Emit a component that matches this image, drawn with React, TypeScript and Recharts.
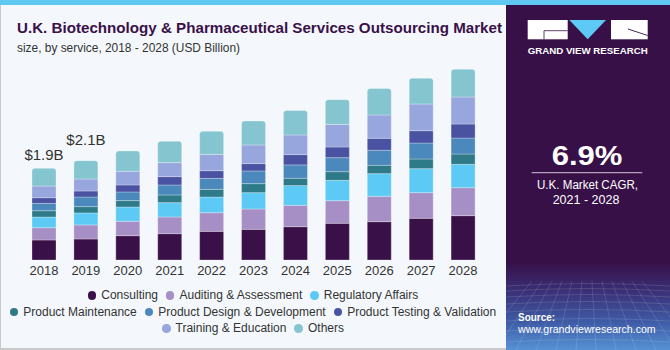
import React from 'react';
import { BarChart, Bar, XAxis, YAxis, LabelList } from 'recharts';

const years = ['2018', '2019', '2020', '2021', '2022', '2023', '2024', '2025', '2026', '2027', '2028'];
const consulting = [0.417, 0.438, 0.507, 0.549, 0.597, 0.639, 0.694, 0.764, 0.799, 0.868, 0.924];
const auditing = [0.256, 0.292, 0.299, 0.347, 0.389, 0.424, 0.446, 0.472, 0.528, 0.535, 0.583];
const regulatory = [0.222, 0.25, 0.299, 0.299, 0.326, 0.34, 0.41, 0.424, 0.472, 0.5, 0.486];
const maintenance = [0.132, 0.132, 0.132, 0.16, 0.16, 0.188, 0.153, 0.18, 0.174, 0.201, 0.215];
const design = [0.153, 0.201, 0.181, 0.208, 0.229, 0.264, 0.278, 0.292, 0.313, 0.333, 0.333];
const testing = [0.118, 0.125, 0.146, 0.174, 0.16, 0.153, 0.215, 0.222, 0.25, 0.257, 0.292];
const training = [0.243, 0.25, 0.285, 0.292, 0.34, 0.389, 0.41, 0.472, 0.486, 0.556, 0.563];
const others = [0.368, 0.382, 0.424, 0.444, 0.479, 0.5, 0.507, 0.514, 0.549, 0.535, 0.576];
const barLabels = ['$1.9B', '$2.1B'];

const seriesKeys = ['consulting', 'auditing', 'regulatory', 'maintenance', 'design', 'testing', 'training', 'others'];
const seriesNames = [
  'Consulting',
  'Auditing & Assessment',
  'Regulatory Affairs',
  'Product Maintenance',
  'Product Design & Development',
  'Product Testing & Validation',
  'Training & Education',
  'Others',
];
const seriesColors = ['#3a1049', '#a68fc4', '#5ccaf5', '#2f7a88', '#4b88bb', '#4953a2', '#97a6dd', '#85c5cf'];
const seriesValues = [consulting, auditing, regulatory, maintenance, design, testing, training, others];

const data = years.map((y, i) => {
  const row: any = { year: y, label: barLabels[i] || '' };
  seriesKeys.forEach((k, s) => {
    row[k] = seriesValues[s][i];
  });
  return row;
});

const FONT = '"Liberation Sans", Arial, sans-serif';
const labelGaps = [8, 16];

const renderBarLabel = (props: any) => {
  const { x, y, width, value, index } = props;
  if (!value) return null;
  const gap = labelGaps[index] ?? 8;
  return (
    <text x={x + width / 2} y={y - gap} textAnchor="middle" fontSize={15} fill="#333" fontFamily={FONT}>
      {value}
    </text>
  );
};

const legendRows = [[0, 1, 2], [3, 4, 5], [6, 7]];

const gridH = [284, 289, 295, 302, 310, 319, 329, 340];
const gridV = [-30, -10, 10, 30, 50, 70, 90, 110, 130, 150, 170, 190];

export default function App() {
  return (
    <div style={{ position: 'absolute', left: 0, top: 0, width: 670, height: 350, overflow: 'hidden', background: '#f4f8fc', fontFamily: FONT }}>
      {/* borders */}
      <div style={{ position: 'absolute', left: 0, top: 0, width: 1, height: 350, background: '#c9c9c9' }} />
      <div style={{ position: 'absolute', left: 0, top: 348, width: 506, height: 2, background: '#c9c9c9' }} />

      {/* Title */}
      <svg width={506} height={60} style={{ position: 'absolute', left: 0, top: 0 }}>
        <text x={17} y={33} fontSize={14} fontWeight="bold" fill="#3a1049" fontFamily={FONT} textLength={485} lengthAdjust="spacingAndGlyphs">
          U.K. Biotechnology &amp; Pharmaceutical Services Outsourcing Market
        </text>
        <text x={17} y={51.5} fontSize={12.5} fill="#333" fontFamily={FONT} textLength={223} lengthAdjust="spacingAndGlyphs">
          size, by service, 2018 - 2028 (USD Billion)
        </text>
      </svg>

      <div style={{ position: 'absolute', left: 0, top: 0 }}>
        <BarChart width={506} height={350} data={data} margin={{ top: 68, right: 22, left: 23, bottom: 70 }}>
          <XAxis
            dataKey="year"
            axisLine={false}
            tickLine={false}
            interval={0}
            height={20}
            tickSize={4}
            tick={{ fontSize: 13, fill: '#333', fontFamily: FONT }}
          />
          <YAxis hide domain={[0, 4]} />
          {seriesKeys.map((k, s) => (
            <Bar
              key={k}
              dataKey={k}
              name={seriesNames[s]}
              stackId="a"
              fill={seriesColors[s]}
              barSize={24}
              stroke="rgba(255,255,255,0.35)"
              strokeWidth={0.8}
              radius={s === seriesKeys.length - 1 ? [3, 3, 0, 0] : 0}
              isAnimationActive={false}
            >
              {s === seriesKeys.length - 1 ? <LabelList dataKey="label" content={renderBarLabel} /> : null}
            </Bar>
          ))}
        </BarChart>
      </div>

      {/* Legend */}
      <div style={{ position: 'absolute', left: 0, top: 287, width: 506, fontSize: 12, color: '#333', fontFamily: FONT }}>
        {legendRows.map((row, r) => (
          <div key={r} style={{ display: 'flex', justifyContent: 'center', height: 16.5, alignItems: 'center', gap: 8 }}>
            {row.map((s) => (
              <div key={s} style={{ display: 'flex', alignItems: 'center', whiteSpace: 'nowrap' }}>
                <span style={{ display: 'inline-block', width: 8.5, height: 8.5, borderRadius: '50%', background: seriesColors[s], marginRight: 5 }} />
                <span>{seriesNames[s]}</span>
              </div>
            ))}
          </div>
        ))}
      </div>

      {/* Right panel */}
      <svg width={164} height={350} style={{ position: 'absolute', left: 506, top: 0 }}>
        <defs>
          <linearGradient id="pg" x1="0" y1="0" x2="0" y2="1">
            <stop offset="0" stopColor="#381048" />
            <stop offset="0.75" stopColor="#381048" />
            <stop offset="0.83" stopColor="#3a2f75" />
            <stop offset="0.92" stopColor="#3f5ba6" />
            <stop offset="1" stopColor="#5592d4" />
          </linearGradient>
        </defs>
        <rect x={0} y={0} width={164} height={350} fill="url(#pg)" />
        {/* faint perspective grid */}
        <g stroke="#ffffff" strokeOpacity={0.16} strokeWidth={0.8} fill="none">
          {gridH.map((gy, i) => (
            <path key={'h' + i} d={`M0,${gy + 2} Q82,${gy - 3} 164,${gy + 2}`} />
          ))}
          {gridV.map((gx, i) => (
            <line key={'v' + i} x1={82 + (gx - 82) * 0.5} y1={281} x2={gx} y2={350} />
          ))}
        </g>
        {/* logo */}
        <rect x={21.7} y={20} width={40} height={19.3} fill="#ffffff" />
        <polyline points="61.7,30.7 38,30.7 38,39.3" stroke="#381048" strokeWidth={0.8} fill="none" />
        <polygon points="63.3,20 100,20 81.7,39.3" fill="#5ccaf5" />
        <rect x={105} y={20} width={36.7} height={19.3} fill="#ffffff" />
        <line x1={122} y1={29} x2={141.7} y2={35.5} stroke="#381048" strokeWidth={0.9} />
        <text x={81.7} y={53.5} textAnchor="middle" fontSize={8.5} fontWeight="bold" fill="#ffffff" fontFamily={FONT} textLength={120} lengthAdjust="spacingAndGlyphs">
          GRAND VIEW RESEARCH
        </text>

        <text x={81} y={165} textAnchor="middle" fontSize={27} fontWeight="bold" fill="#ffffff" fontFamily={FONT} textLength={70.7} lengthAdjust="spacingAndGlyphs">
          6.9%
        </text>
        <line x1={25.7} y1={172.7} x2={136.3} y2={172.7} stroke="#cfc6d8" strokeWidth={1} />
        <text x={81.5} y={188.5} textAnchor="middle" fontSize={12.5} fill="#ffffff" fontFamily={FONT} textLength={101} lengthAdjust="spacingAndGlyphs">
          U.K. Market CAGR,
        </text>
        <text x={80} y={204} textAnchor="middle" fontSize={12.5} fill="#ffffff" fontFamily={FONT} textLength={66.7} lengthAdjust="spacingAndGlyphs">
          2021 - 2028
        </text>

        <text x={12} y={320.5} fontSize={11} fontWeight="bold" fill="#ffffff" fontFamily={FONT} textLength={37} lengthAdjust="spacingAndGlyphs">
          Source:
        </text>
        <text x={12} y={332.5} fontSize={11} fill="#ffffff" fontFamily={FONT} textLength={137.7} lengthAdjust="spacingAndGlyphs">
          www.grandviewresearch.com
        </text>
      </svg>

      {/* top band */}
      <div style={{ position: 'absolute', left: 0, top: 0, width: 670, height: 5, background: '#5ec8f0' }} />
    </div>
  );
}
